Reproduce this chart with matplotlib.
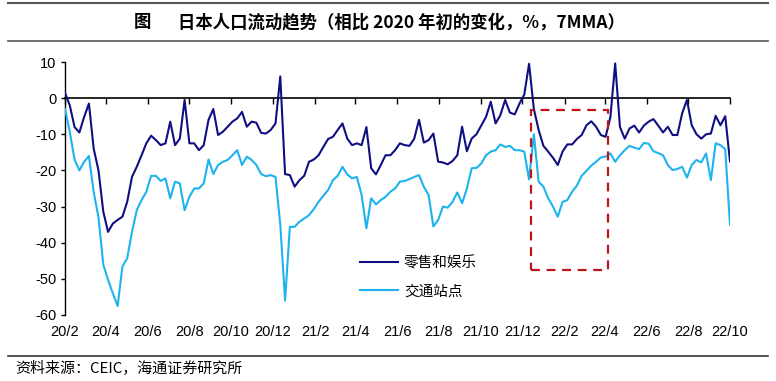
import matplotlib
matplotlib.use("Agg")
import matplotlib.pyplot as plt
import matplotlib.dates as mdates
from matplotlib.patches import Rectangle
from matplotlib.lines import Line2D
import pandas as pd

# ---------------- data (weekly samples of 7-day moving average, % vs early-2020 baseline)
start_date = "2020-02-15"
n_weeks = 140

retail = [
    1.5, -2, -8, -9.5, -5.2, -1.5, -14, -20, -31.4, -37,
    -34.7, -33.7, -32.8, -28.7, -21.8, -19, -15.8, -12.5, -10.4, -11.6,
    -13, -12.5, -6.5, -13, -11.2, -0.5, -12.5, -12.5, -14.4, -13,
    -6, -3, -10.2, -9.3, -7.9, -6.5, -5.6, -3.8, -7.9, -6.5,
    -6.8, -9.6, -9.8, -8.8, -7, 6, -21, -21.3, -24.5, -22.7,
    -21.5, -17.6, -17, -15.8, -13.5, -11.3, -10.7, -8.8, -7, -11.2,
    -13, -12.5, -13, -8, -19.4, -21.1, -18.5, -15.8, -15.8, -14.4,
    -12.5, -13, -13.2, -11.2, -6, -12.3, -11.6, -9.8, -17.6, -17.8,
    -18.3, -17.4, -15.8, -7.9, -14.7, -11.2, -10, -7.6, -5.2, -1,
    -7, -4.7, -0.5, -4, -4.5, -1.5, 1, 9.5, -3, -8.8,
    -13.2, -14.8, -16.5, -18.5, -14.8, -12.8, -12.8, -11.3, -10.2, -7.5,
    -6.4, -7.9, -10.2, -10.7, -5.2, 9.6, -8, -11.2, -8.4, -7.6,
    -9.5, -7.6, -6.5, -5.8, -7.6, -9.5, -7.9, -10.2, -10.2, -4.2,
    -0.5, -7.5, -10, -11.2, -10, -9.8, -4.9, -7.5, -5, -17.5,
]

transit = [
    -3, -9.3, -17, -20, -17.6, -16, -26, -33, -46, -50.3,
    -54, -57.5, -46.6, -44.3, -37, -31, -28.2, -25.9, -21.5, -21.5,
    -22.9, -22.2, -27.7, -23.1, -23.6, -31, -27.3, -25, -25, -23.6,
    -17, -21, -18.5, -17.6, -17.1, -15.8, -14.4, -18.5, -16.2, -17.1,
    -18.5, -21, -21.6, -21.3, -21.8, -35, -56, -35.6, -35.6, -34.2,
    -33.3, -32.4, -30.7, -28.7, -27, -25.4, -22.7, -21.5, -19, -21.1,
    -22.2, -21.8, -26.8, -36, -27.7, -29.4, -28.2, -27.3, -25.9, -25,
    -23.1, -22.9, -22.4, -21.8, -21.3, -24.5, -26.8, -35.5, -33.7, -30,
    -30.3, -28.7, -26.1, -29.1, -25, -19.4, -19.3, -18.1, -15.8, -14.8,
    -14.4, -12.8, -13.5, -13.2, -14.4, -14.4, -14.8, -22.5, -10, -23.1,
    -24.5, -27.7, -30, -32.8, -28.7, -28.2, -25.9, -24.2, -21.5, -20.1,
    -18.7, -17.6, -16.4, -16.2, -15.3, -17.6, -15.8, -14.4, -13.2, -13.7,
    -14.1, -12.4, -12.6, -14.7, -15.2, -15.8, -18.5, -19.9, -19.6, -19,
    -22, -18.5, -17.1, -17.8, -15.3, -22.7, -12.5, -13, -14.1, -35,
]

series_names = ["零售和娱乐", "交通站点"]
tick_labels = ["20/2", "20/4", "20/6", "20/8", "20/10", "20/12", "21/2", "21/4",
               "21/6", "21/8", "21/10", "21/12", "22/2", "22/4", "22/6", "22/8", "22/10"]
y_ticks = [10, 0, -10, -20, -30, -40, -50, -60]

# highlighted window (red dashed box)
box_start, box_end = "2021-12-28", "2022-04-19"
box_low, box_high = -47.6, -3.3

title_prefix = "图"
title_text = "日本人口流动趋势（相比 2020 年初的变化，%，7MMA）"
source_text = "资料来源：CEIC，海通证券研究所"

# ---------------- styling
DARK = "#0F0F82"
LIGHT = "#1DB3EE"
RED = "#C0141C"
CJK = ["Noto Sans CJK SC", "DejaVu Sans"]
NUM = ["Liberation Sans", "DejaVu Sans"]

dates = pd.date_range(start_date, periods=n_weeks, freq="7D")
tick_dates = [pd.Timestamp(start_date) + pd.DateOffset(months=2 * i) for i in range(len(tick_labels))]

W, H = 776, 381
fig = plt.figure(figsize=(W / 100, H / 100), dpi=100)
fig.patch.set_facecolor("white")
ax = fig.add_axes([65 / W, 1 - 315 / H, 665 / W, 253 / H])

ax.plot(dates, retail, color=DARK, lw=1.5, label=series_names[0], zorder=3)
ax.plot(dates, transit, color=LIGHT, lw=1.5, label=series_names[1], zorder=3)

ax.set_xlim(dates[0], dates[-1])
ax.set_ylim(-60, 10)

# y axis
ax.set_yticks(y_ticks)
ax.set_yticklabels([str(v) for v in y_ticks], fontfamily=NUM, fontsize=10.5)
ax.tick_params(axis="y", direction="out", length=3, width=1, pad=3)

# x axis at y = 0, labels at bottom
for s in ["top", "right"]:
    ax.spines[s].set_visible(False)
ax.spines["bottom"].set_position(("data", 0))
ax.spines["bottom"].set_linewidth(1.2)
ax.spines["left"].set_linewidth(1.0)
ax.set_xticks(tick_dates)
ax.tick_params(axis="x", direction="out", length=4, width=1, labelbottom=False)

sec = ax.secondary_xaxis("bottom")
sec.set_xticks(tick_dates)
sec.set_xticklabels(tick_labels, fontfamily=NUM, fontsize=10.5)
sec.tick_params(length=0, pad=7)
sec.spines["bottom"].set_visible(False)

# red dashed box
x0 = mdates.date2num(pd.Timestamp(box_start))
x1 = mdates.date2num(pd.Timestamp(box_end))
ax.add_patch(Rectangle((x0, box_low), x1 - x0, box_high - box_low, fill=False,
                       edgecolor=RED, lw=1.6, ls=(0, (4, 3)), zorder=4))

leg = ax.legend(loc="upper left", bbox_to_anchor=(0.435, 0.255), frameon=False,
                prop={"family": CJK, "size": 10.5}, handlelength=2.6,
                handletextpad=0.4, labelspacing=0.95, borderaxespad=0)

# title, rules and source
fig.add_artist(Line2D([8 / W, 768 / W], [1 - 3 / H, 1 - 3 / H], color="#555555", lw=1.5))
fig.add_artist(Line2D([8 / W, 768 / W], [1 - 41 / H, 1 - 41 / H], color="#555555", lw=1.2))
fig.add_artist(Line2D([8 / W, 768 / W], [1 - 356 / H, 1 - 356 / H], color="#333333", lw=1.2))
fig.text(142 / W, 1 - 22 / H, title_prefix, ha="center", va="center",
         fontfamily=CJK, fontsize=12.5, fontweight="bold")
fig.text(178 / W, 1 - 22 / H, title_text, ha="left", va="center",
         fontfamily=CJK, fontsize=12.5, fontweight="bold")
fig.text(15 / W, 1 - 369 / H, source_text, ha="left", va="center",
         fontfamily=CJK, fontsize=10.8)

fig.savefig("out.png", dpi=100)
